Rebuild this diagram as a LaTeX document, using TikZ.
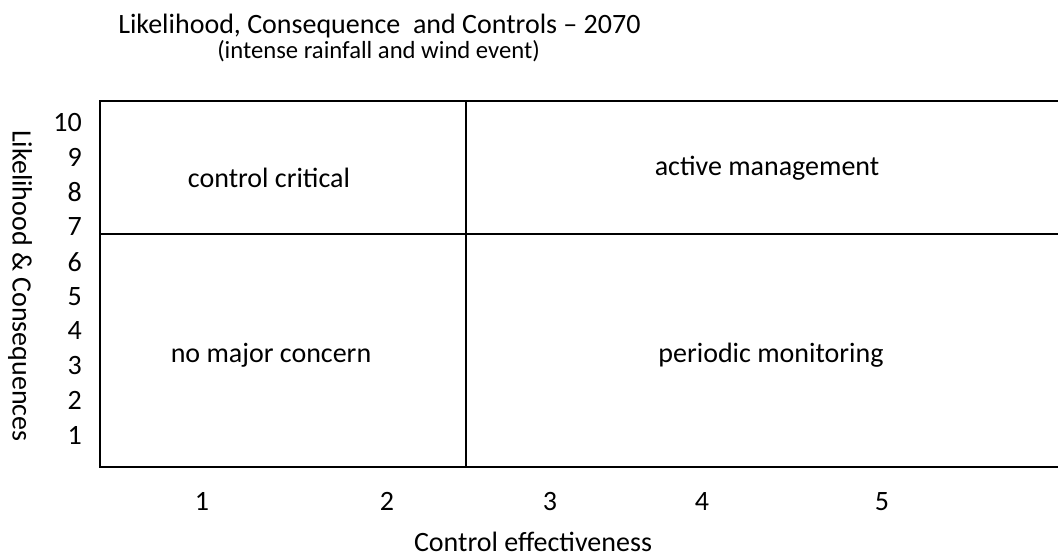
\documentclass[tikz,border=0pt]{standalone}
\usepackage{fontspec}
\setmainfont{Carlito}
\usepackage{tikz}

\begin{document}
\begin{tikzpicture}[x=0.75pt,y=-0.75pt,
    every node/.style={inner sep=0pt,font=\fontsize{21}{25}\selectfont},
    frame/.style={line width=2pt},
    zone/.style={anchor=center},
    tick/.style={anchor=base}]
  \useasboundingbox (0,0) rectangle (1058,556);
  \clip (0,0) rectangle (1058,556);

  % headings
  \node[anchor=base west] (title) at (118,34) {Likelihood, Consequence\ \ and Controls -- 2070};
  \node[anchor=base west,font=\fontsize{18.5}{22}\selectfont] (subtitle) at (217,59) {(intense rainfall and wind event)};

  % the matrix, open on the right
  \draw[frame] (1070,101) -- (100,101) -- (100,467) -- (1070,467);
  \draw[frame] (466,101) -- (466,467);
  \draw[frame] (100,234) -- (1070,234);

  \node[zone] (critical) at (269,178) {control critical};
  \node[zone] (active) at (767,168) {active management};
  \node[zone] (noconcern) at (271,355) {no major concern};
  \node[zone] (periodic) at (771,355) {periodic monitoring};

  % likelihood scale
  \foreach \n in {1,...,10}
    \node[anchor=east] (like\n) at (82,{435-(\n-1)*34.67}) {\n};
  \node[rotate=-90] (likeaxis) at (20,286) {Likelihood \& Consequences};

  % control scale
  \foreach \n/\x in {1/202,2/387,3/550,4/702,5/882}
    \node[tick] (ctrl\n) at (\x,510) {\n};
  \node[anchor=base,text depth=0pt] (ctrlaxis) at (533,551) {Control effectiveness};
\end{tikzpicture}
\end{document}
